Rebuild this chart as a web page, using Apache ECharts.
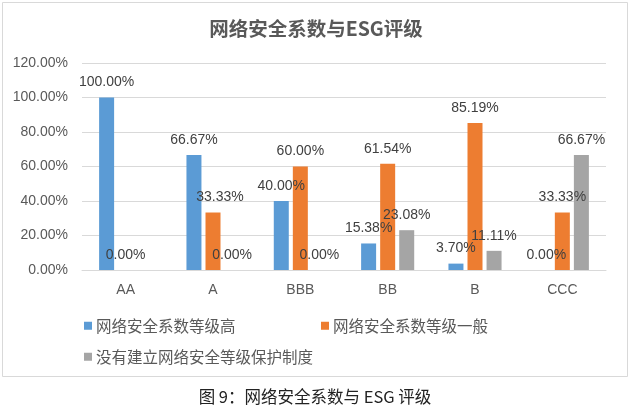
<!DOCTYPE html>
<html>
<head>
<meta charset="utf-8">
<script src="https://cdn.jsdelivr.net/npm/echarts@6/dist/echarts.min.js"></script>
<style>
html,body{margin:0;padding:0;background:#fff;}
#c{width:630px;height:411px;}
</style>
</head>
<body>
<div id="c"></div>
<script>
const titleText = '网络安全系数与ESG评级';
const captionText = '图 9：网络安全系数与 ESG 评级';
const categories = ['AA', 'A', 'BBB', 'BB', 'B', 'CCC'];
const seriesNames = ['网络安全系数等级高', '网络安全系数等级一般', '没有建立网络安全等级保护制度'];
const highValues = [100.00, 66.67, 40.00, 15.38, 3.70, 0.00];
const normalValues = [0.00, 33.33, 60.00, 61.54, 85.19, 33.33];
const noneValues = [null, 0.00, 0.00, 23.08, 11.11, 66.67];
const yTicks = [0, 20, 40, 60, 80, 100, 120];

const colors = ['#5B9BD5', '#ED7D31', '#A5A5A5'];
const numFont = '"Liberation Sans", Arial, sans-serif';
const cjkFont = '"Noto Sans CJK SC", sans-serif';
// small label nudges (series index -> category index -> px)
const labelShift = {1: {1: 7}, 0: {5: 3}};

function makeSeries(idx, values) {
  return {
    name: seriesNames[idx],
    type: 'bar',
    barWidth: 15,
    barGap: '27%',
    itemStyle: {color: colors[idx]},
    label: {
      show: true,
      position: 'top',
      distance: 8,
      color: '#404040',
      fontSize: 14,
      fontFamily: numFont,
      formatter: p => p.value == null ? '' : p.value.toFixed(2) + '%'
    },
    data: values.map((v, i) => {
      const s = labelShift[idx] && labelShift[idx][i];
      if (s && v != null) return {value: v, label: {offset: [s, 0]}};
      return v;
    })
  };
}

const legendText = {fontSize: 15.5, color: '#595959', fontFamily: cjkFont, padding: [0, 0, 0, -1]};
const chart = echarts.init(document.getElementById('c'), null, {renderer: 'canvas'});
chart.setOption({
  animation: false,
  backgroundColor: '#fff',
  title: {
    text: titleText,
    left: 316, top: 19, textAlign: 'center', padding: 0,
    textStyle: {fontSize: 19.5, fontWeight: 'bold', color: '#595959', fontFamily: cjkFont}
  },
  grid: {left: 82, right: 24, top: 63, bottom: 141, containLabel: false},
  legend: [
    {data: [seriesNames[0]], left: 84, top: 318, padding: 0, itemWidth: 8, itemHeight: 8, icon: 'rect', textStyle: legendText},
    {data: [seriesNames[1]], left: 321, top: 318, padding: 0, itemWidth: 8, itemHeight: 8, icon: 'rect', textStyle: legendText},
    {data: [seriesNames[2]], left: 84, top: 349, padding: 0, itemWidth: 8, itemHeight: 8, icon: 'rect', textStyle: legendText}
  ],
  xAxis: {
    type: 'category',
    data: categories,
    axisLine: {lineStyle: {color: '#D9D9D9'}},
    axisTick: {show: false},
    axisLabel: {color: '#595959', fontSize: 14, fontFamily: numFont, margin: 13}
  },
  yAxis: {
    type: 'value',
    min: yTicks[0], max: yTicks[yTicks.length - 1], interval: yTicks[1] - yTicks[0],
    axisLine: {show: false},
    axisTick: {show: false},
    splitLine: {lineStyle: {color: '#D9D9D9'}},
    axisLabel: {color: '#595959', fontSize: 14, fontFamily: numFont, margin: 14,
      formatter: v => v.toFixed(2) + '%'}
  },
  series: [makeSeries(0, highValues), makeSeries(1, normalValues), makeSeries(2, noneValues)],
  graphic: [
    {type: 'rect', shape: {x: 2.5, y: 2.5, width: 625, height: 374}, silent: true, z: -1,
     style: {fill: 'none', stroke: '#D9D9D9', lineWidth: 1}},
    {type: 'text', left: 'center', top: 388,
     style: {text: captionText, fill: '#222', fontSize: 16.5, fontFamily: '"Noto Sans CJK SC", "DejaVu Serif", serif'}}
  ]
});
</script>
</body>
</html>
